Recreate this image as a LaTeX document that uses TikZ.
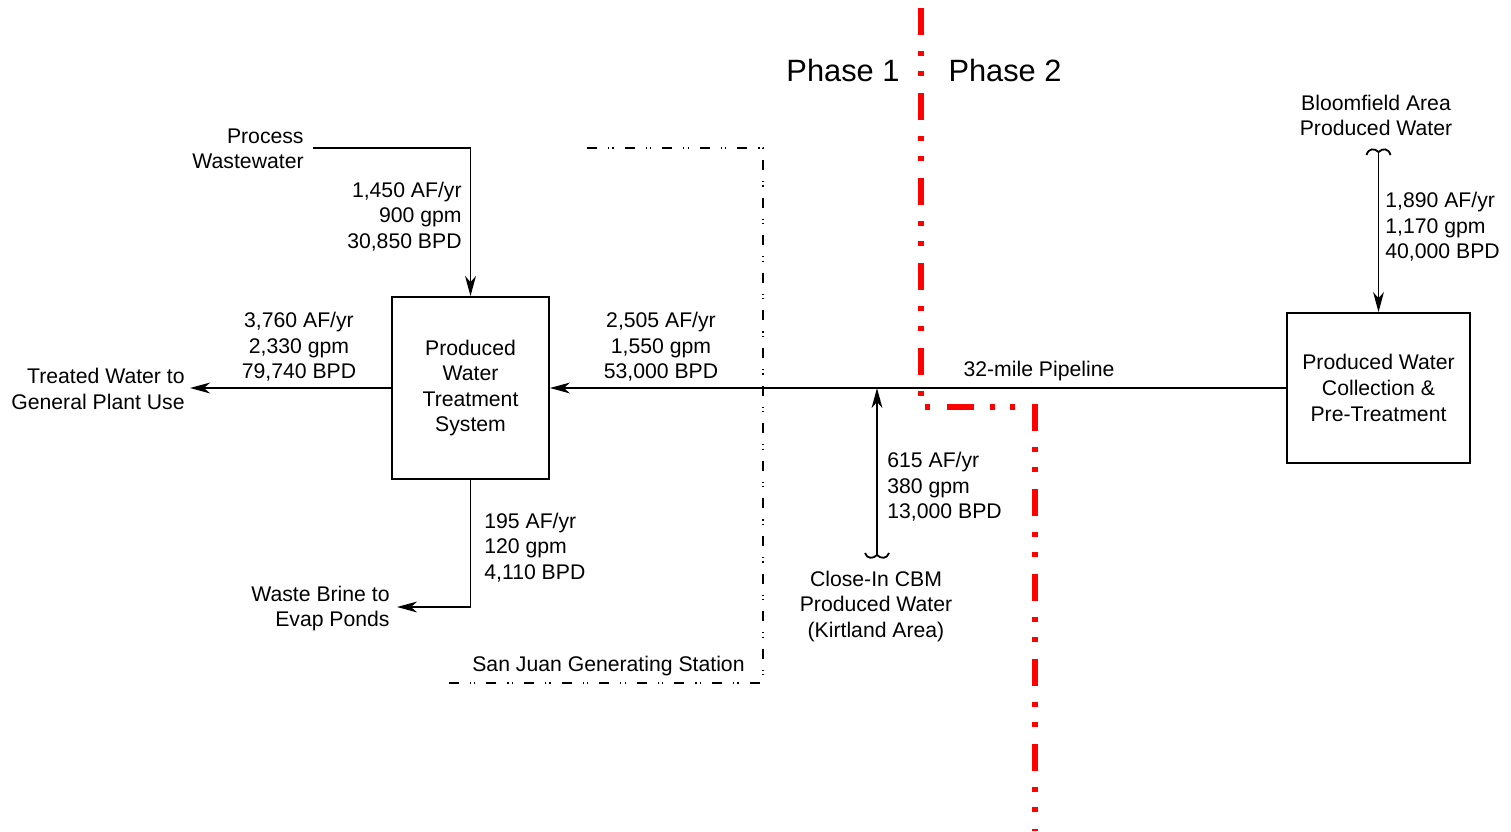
\documentclass[tikz,border=0pt]{standalone}
\usepackage{fontspec}
\setmainfont{Liberation Sans}
\usetikzlibrary{calc,arrows.meta}
\definecolor{phasered}{HTML}{FF0000}

\begin{document}
\begin{tikzpicture}[x=0.5pt,y=-0.5pt,
	font=\fontsize{10.6}{12.8}\selectfont,
	flow/.style={line width=0.9pt,-{Stealth[length=10pt,width=5.4pt,inset=3pt]}},
	pipe/.style={line width=0.9pt},
	unit/.style={draw,line width=0.9pt,align=center,inner sep=0pt},
	txt/.style={align=center,inner sep=0pt},
	border/.style={line width=0.7pt,dash pattern=on 5pt off 5.5pt on 0.6pt off 1.6pt on 0.6pt off 5.5pt},
	phase/.style={phasered,line width=2.6pt,dash pattern=on 13.5pt off 8pt on 2.5pt off 7.5pt on 2.5pt off 8.5pt}]
	
	\useasboundingbox (0,0) rectangle (1511,831);
	
	% phase boundary
	\coordinate (p1) at (921,8);
	\coordinate (p2) at (921,407);
	\coordinate (p3) at (1035,407);
	\coordinate (p4) at (1035,831);
	\draw[phase] (p1) -- (p2) -- (p3) -- (p4);
	\node[txt,font=\fontsize{15.4}{18}\selectfont] (ph1) at (843,70) {Phase 1};
	\node[txt,font=\fontsize{15.4}{18}\selectfont] (ph2) at (1005,70) {Phase 2};
	
	% units
	\node[unit,minimum width=78.5pt,minimum height=91pt] (pwts) at (470.5,388) {Produced\\Water\\Treatment\\System};
	\node[unit,minimum width=91.5pt,minimum height=75pt] (pwc) at (1378.5,388) {Produced Water\\Collection \&\\Pre-Treatment};
	
	% station boundary
	\coordinate (b1) at (587,148);
	\coordinate (b2) at (763,148);
	\coordinate (b3) at (763,683);
	\coordinate (b4) at (443,683);
	\draw[border] (b1) -- (b2) -- (b3) -- (b4);
	\node[txt,anchor=east] (sjgs) at (745,666) {San Juan Generating Station};
	
	% process wastewater
	\coordinate (pw) at (313,148);
	\draw[flow] (pw) -| (pwts.north);
	\node[txt,align=right,anchor=east] (pwlbl) at (304,149) {Process\\Wastewater};
	\node[txt,align=right,anchor=east] (q1) at (462,216.5) {1,450 AF/yr\\900 gpm\\30,850 BPD};
	
	% treated water
	\coordinate (tw) at (190,388);
	\draw[flow] (pwts.west) -- (tw);
	\node[txt,align=right,anchor=east] (twlbl) at (185,389) {Treated Water to\\General Plant Use};
	\node[txt] (q2) at (299,347) {3,760 AF/yr\\2,330 gpm\\79,740 BPD};
	
	% pipeline
	\draw[flow] (pwc.west) -- (pwts.east);
	\node[txt] (q3) at (661,347) {2,505 AF/yr\\1,550 gpm\\53,000 BPD};
	\node[txt] (pipe) at (1039,371) {32-mile Pipeline};
	
	% waste brine
	\coordinate (wb) at (397,607);
	\draw[flow] (pwts.south) |- (wb);
	\node[txt,align=right,anchor=east] (wblbl) at (390,608.5) {Waste Brine to\\Evap Ponds};
	\node[txt,align=left,anchor=west] (q4) at (484,547.5) {195 AF/yr\\120 gpm\\4,110 BPD};
	
	% close-in CBM
	\coordinate (ci) at (877,555);
	\draw[flow] (ci) -- (ci |- pwc.west);
	\draw[pipe,shift={(ci)}] (-12,-2) .. controls (-10,4) and (-4,4) .. (0,0) .. controls (4,4) and (10,4) .. (12,-2);
	\node[txt,align=left,anchor=west] (q5) at (887,487) {615 AF/yr\\380 gpm\\13,000 BPD};
	\node[txt] (cilbl) at (876,606.5) {Close-In CBM\\Produced Water\\(Kirtland Area)};
	
	% bloomfield
	\coordinate (bf) at (1378.5,152);
	\draw[flow] (bf) -- (pwc.north);
	\draw[pipe,shift={(bf)}] (-12,3) .. controls (-10,-4) and (-4,-4) .. (0,0) .. controls (4,-4) and (10,-4) .. (12,3);
	\node[txt] (bflbl) at (1376,115.5) {Bloomfield Area\\Produced Water};
	\node[txt,align=left,anchor=west] (q6) at (1385,227) {1,890 AF/yr\\1,170 gpm\\40,000 BPD};
\end{tikzpicture}
\end{document}
